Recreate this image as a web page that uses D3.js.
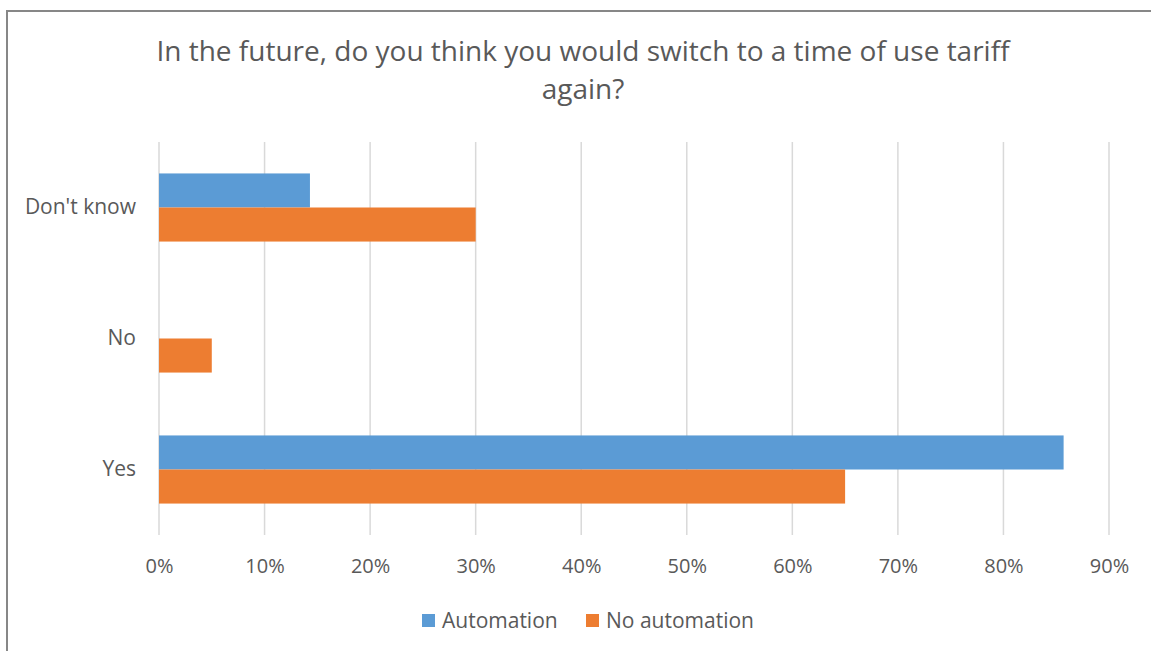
<!DOCTYPE html>
<html><head><meta charset="utf-8">
<script src="https://cdn.jsdelivr.net/npm/d3@7"></script>
<style>html,body{margin:0;padding:0;background:#fff;overflow:hidden}</style>
</head><body>
<svg id="c" width="1151" height="651"></svg>
<script>
const categories = ["Don't know", "No", "Yes"];
const seriesNames = ["Automation", "No automation"];
const automation = [0.143, 0, 0.857];
const noAutomation = [0.30, 0.05, 0.65];
const xTicks = [0, 0.1, 0.2, 0.3, 0.4, 0.5, 0.6, 0.7, 0.8, 0.9];
const titleLines = ["In the future, do you think you would switch to a time of use tariff", "again?"];

const colors = ["#5B9BD5", "#ED7D31"];
const textColor = "#595959";
const font = "'Open Sans', sans-serif";
const svg = d3.select("#c");

svg.append("rect").attr("x", 7).attr("y", 11).attr("width", 1160).attr("height", 660)
  .attr("fill", "#fff").attr("stroke", "#878787").attr("stroke-width", 2);

const x = d3.scaleLinear().domain([0, 0.9]).range([159, 1109]);
const y = d3.scaleBand().domain(categories).range([142, 535]).paddingInner(0.48).paddingOuter(0.24);
const sub = d3.scaleBand().domain(seriesNames).range([0, y.bandwidth()]);

// gridlines
svg.append("g").selectAll("line").data(xTicks).join("line")
  .attr("x1", d => x(d)).attr("x2", d => x(d)).attr("y1", 142).attr("y2", 535)
  .attr("stroke", "#D9D9D9").attr("stroke-width", 1.5);

const data = categories.map((c, i) => ({c, vals: [automation[i], noAutomation[i]]}));
const g = svg.append("g");
data.forEach(d => {
  d.vals.forEach((v, j) => {
    if (v <= 0) return;
    g.append("rect").attr("x", x(0)).attr("y", y(d.c) + sub(seriesNames[j]))
      .attr("width", x(v) - x(0)).attr("height", sub.bandwidth()).attr("fill", colors[j]);
  });
});

// x axis labels
const xa = svg.append("g").attr("transform", "translate(0,535)")
  .call(d3.axisBottom(x).tickValues(xTicks).tickFormat(d3.format(".0%")).tickSize(0).tickPadding(24));
xa.select(".domain").remove();
xa.selectAll("text").attr("fill", textColor).style("font-family", font).style("font-size", "20px");

// y axis labels
const ya = svg.append("g").attr("transform", "translate(159,0)")
  .call(d3.axisLeft(y).tickSize(0).tickPadding(23));
ya.select(".domain").remove();
ya.selectAll("text").attr("fill", textColor).style("font-family", font).style("font-size", "21px");

// title
svg.append("text").attr("x", 583).attr("y", 61).attr("text-anchor", "middle")
  .attr("fill", textColor).style("font-family", font).style("font-size", "28px")
  .selectAll("tspan").data(titleLines).join("tspan")
  .attr("x", 583).attr("dy", (d, i) => i ? 38 : 0).text(d => d);

// legend
const leg = svg.append("g");
const legX = [422, 586];
seriesNames.forEach((s, i) => {
  leg.append("rect").attr("x", legX[i]).attr("y", 614).attr("width", 13).attr("height", 13).attr("fill", colors[i]);
  leg.append("text").attr("x", legX[i] + 20).attr("y", 628).attr("fill", textColor)
    .style("font-family", font).style("font-size", "21px").text(s);
});
</script>
</body></html>
